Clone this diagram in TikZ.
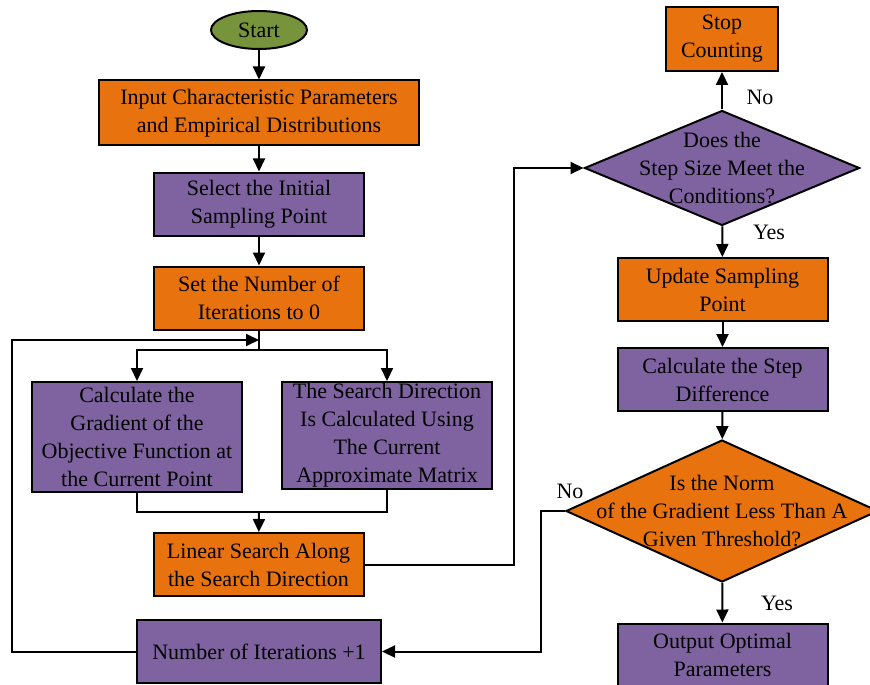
\documentclass[tikz,border=0pt]{standalone}
\usepackage{fontspec}
\setmainfont{Liberation Serif}
\usetikzlibrary{shapes.geometric,arrows.meta}
\definecolor{boxorange}{RGB}{232,114,14}
\definecolor{boxpurple}{RGB}{127,99,160}
\definecolor{startgreen}{RGB}{119,147,60}

\begin{document}
\begin{tikzpicture}[x=0.5pt,y=-0.5pt,
		font=\fontsize{11}{14}\selectfont,
		box/.style={draw,line width=1pt,rectangle,align=center,minimum width=105pt,minimum height=31.5pt,inner sep=0pt},
		obox/.style={box,fill=boxorange},
		pbox/.style={box,fill=boxpurple},
		decision/.style={draw,line width=1pt,diamond,inner sep=0pt},
		arr/.style={line width=1pt,-{Triangle[length=6.5pt,width=6pt]}},
		line/.style={line width=1pt}]
		\useasboundingbox (0,0) rectangle (870,684);
		% left column
		\node[draw,line width=1pt,ellipse,fill=startgreen,minimum width=48pt,minimum height=19pt,inner sep=0pt] (start) at (259,30) {Start};
		\node[obox,minimum width=160pt,minimum height=32.5pt] (input) at (259,113) {Input Characteristic Parameters\\and Empirical Distributions};
		\node[pbox] (select) at (259,204) {Select the Initial\\Sampling Point};
		\node[obox] (set) at (259,298) {Set the Number of\\Iterations to 0};
		\node[pbox,minimum height=55pt] (grad) at (137,437) {Calculate the\\Gradient of the\\Objective Function at\\the Current Point};
		\node[pbox,minimum height=53.5pt] (search) at (387,435.5) {The Search Direction\\Is Calculated Using\\The Current\\Approximate Matrix};
		\node[obox] (linear) at (258.5,564.5) {Linear Search Along\\the Search Direction};
		\node[pbox,minimum width=122pt] (num) at (259,651.5) {Number of Iterations +1};
		% right column
		\node[decision,fill=boxpurple,minimum width=137.5pt,minimum height=57.5pt] (step) at (722,168) {};
		\node[align=center] (steptxt) at (step) {Does the\\Step Size Meet the\\Conditions?};
		\node[obox,minimum width=56pt,minimum height=32pt] (stop) at (722,39) {Stop\\Counting};
		\node[obox] (update) at (722.5,289.5) {Update Sampling\\Point};
		\node[pbox] (diff) at (722.5,379.5) {Calculate the Step\\Difference};
		\node[decision,fill=boxorange,minimum width=156pt,minimum height=71pt] (norm) at (722,511) {};
		\node[align=center] (normtxt) at (norm) {Is the Norm\\of the Gradient Less Than A\\Given Threshold?};
		\node[pbox] (out) at (722.5,655) {Output Optimal\\Parameters};
		% turning points
		\coordinate (split) at (259,350);
		\coordinate (merge) at (259,340);
		\coordinate (join) at (259,512);
		\coordinate (lc) at (12,651.5);
		\coordinate (rc) at (514,564.5);
		\coordinate (nc) at (541,511);
		% connectors
		\draw[arr] (start) -- (input);
		\draw[arr] (input) -- (select);
		\draw[arr] (select) -- (set);
		\draw[line] (set) -- (split);
		\draw[arr] (split) -| (grad);
		\draw[arr] (split) -| (search);
		\draw[line] (grad) |- (join) -| (search);
		\draw[arr] (join) -- (linear);
		\draw[arr] (num) -- (lc) |- (merge);
		\draw[arr] (linear) -- (rc) |- (step);
		\draw[arr] (step) -- (stop);
		\draw[arr] (step) -- (update);
		\draw[arr] (update) -- (diff);
		\draw[arr] (diff) -- (norm);
		\draw[arr] (norm) -- (out);
		\draw[arr] (norm) -- (nc) |- (num);
		% branch labels
		\node (no1) at (760,97) {No};
		\node (yes1) at (769,232) {Yes};
		\node (yes2) at (777,603) {Yes};
		\node (no2) at (570,491) {No};
\end{tikzpicture}
\end{document}
